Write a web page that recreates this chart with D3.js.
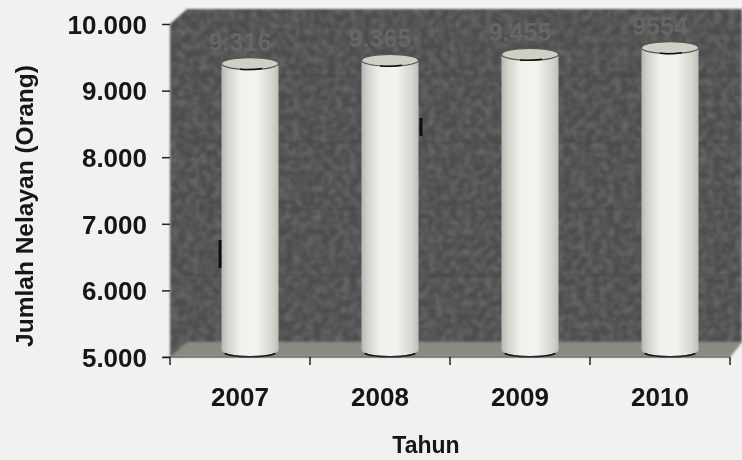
<!DOCTYPE html>
<html><head><meta charset="utf-8">
<script src="https://cdn.jsdelivr.net/npm/d3@7"></script>
<style>html,body{margin:0;padding:0;background:#f1f1ef}svg{display:block}text{font-family:"Liberation Sans",Arial,sans-serif;font-weight:bold;fill:#141414}</style>
</head><body><svg id="c" width="742" height="460"></svg>
<script>
const years = ["2007","2008","2009","2010"];
const fishers = [9316,9365,9455,9554];
const valueLabels = ["9.316","9.365","9.455","9554"];
const yTicks = [5000,6000,7000,8000,9000,10000];
const yTickLabels = ["5.000","6.000","7.000","8.000","9.000","10.000"];
const xTitle = "Tahun";
const yTitle = "Jumlah Nelayan (Orang)";

const svg = d3.select("#c");
const x = d3.scaleBand().domain(years).range([170,730]);
const y = d3.scaleLinear().domain([5000,10000]).range([357,24]);
const dx = 17, dy = -15;           // 3D depth of the wall
const barDx = 10, barDy = -6;      // bar sits mid-depth
const rw = 28.5, ry = 6;

const defs = svg.append("defs");
const grad = defs.append("linearGradient").attr("id","cyl");
[[0,"#b8b8b2"],[.1,"#d0d0ca"],[.32,"#f0f0ec"],[.62,"#f2f2ee"],[.88,"#d6d6d0"],[1,"#c0c0ba"]]
  .forEach(s=>grad.append("stop").attr("offset",s[0]).attr("stop-color",s[1]));
const filt = defs.append("filter").attr("id","scan").attr("x","-5%").attr("y","-5%").attr("width","110%").attr("height","110%");
filt.append("feTurbulence").attr("type","fractalNoise").attr("baseFrequency",.14).attr("numOctaves",2).attr("seed",4).attr("result","n");
filt.append("feColorMatrix").attr("in","n").attr("type","matrix").attr("values","0 0 0 0 .38  0 0 0 0 .38  0 0 0 0 .38  .45 0 0 0 -.16").attr("result","m");
filt.append("feComposite").attr("in","m").attr("in2","SourceAlpha").attr("operator","in").attr("result","c");
filt.append("feMerge").selectAll("feMergeNode").data(["SourceGraphic","c"]).join("feMergeNode").attr("in",d=>d);
defs.append("filter").attr("id","soft").append("feGaussianBlur").attr("stdDeviation",.55);
defs.append("filter").attr("id","soft2").append("feGaussianBlur").attr("stdDeviation",1);

const pLeft = x.range()[0], pRight = x.range()[1];
const pBottom = y(5000), pTop = y(10000);

// walls and floor
const wall = svg.append("g").attr("filter","url(#soft2)");
wall.append("path").attr("d",`M${pLeft},${pBottom}V${pTop}L${pLeft+dx},${pTop+dy}H742V${pBottom+dy}L${pRight},${pBottom}Z`)
  .attr("fill","#4e4e4d").attr("filter","url(#scan)");
wall.append("path").attr("d",`M${pLeft},${pBottom}L${pLeft+dx},${pBottom+dy}H742L${pRight},${pBottom}Z`).attr("fill","#8a8a82");
wall.selectAll(".grid").data(yTicks.slice(1,-1)).join("line")
  .attr("x1",pLeft+dx).attr("x2",742).attr("y1",d=>y(d)+dy).attr("y2",d=>y(d)+dy)
  .attr("stroke","#444443").attr("stroke-width",1);
svg.append("path").attr("d",`M${pLeft+dx},${pTop+dy}H742`).attr("stroke","#888886").attr("stroke-width",1).attr("filter","url(#soft)");

// data labels
svg.append("g").attr("filter","url(#soft)").selectAll("text").data(years).join("text")
  .attr("x",d=>x(d)+x.bandwidth()/2).attr("y",(d,i)=>y(fishers[i])+barDy-13)
  .attr("text-anchor","middle").attr("font-size",25).style("fill","#666665")
  .text((d,i)=>valueLabels[i]);

// cylinders
const barBase = pBottom - 7;
const bars = svg.append("g").attr("filter","url(#soft)").selectAll("g").data(years).join("g")
  .attr("transform",d=>`translate(${x(d)+x.bandwidth()/2+barDx},0)`);
bars.append("path").attr("d",(d,i)=>{
  const t=y(fishers[i])+barDy;
  return `M${-rw},${t}V${barBase}A${rw},${ry} 0 0 0 ${rw},${barBase}V${t}Z`;
}).attr("fill","url(#cyl)");
bars.append("path").attr("d",`M${-rw+3},${barBase+3.5}A${rw},${ry} 0 0 0 ${rw-3},${barBase+3.5}`)
  .attr("fill","none").attr("stroke","#111").attr("stroke-width",1.6);
bars.append("ellipse").attr("cx",0).attr("cy",(d,i)=>y(fishers[i])+barDy).attr("rx",rw).attr("ry",ry)
  .attr("fill","#cfcfc6").attr("stroke","#55554f").attr("stroke-width",1.2);
bars.append("path").attr("d",(d,i)=>{
  const t=y(fishers[i])+barDy;
  return `M-10,${t+5.6}Q0,${t+6.6} 12,${t+5}`;
}).attr("fill","none").attr("stroke","#111").attr("stroke-width",1.5);

// axes
const ax = svg.append("g").attr("filter","url(#soft)");
const xAxis = ax.append("g").attr("transform",`translate(0,${pBottom})`);
xAxis.append("line").attr("x1",pLeft-7).attr("x2",pRight).attr("stroke","#444").attr("stroke-width",1.2);
xAxis.selectAll(".t").data(years.concat("end")).join("line")
  .attr("x1",(d,i)=>pLeft+i*x.step()).attr("x2",(d,i)=>pLeft+i*x.step()).attr("y1",0).attr("y2",8)
  .attr("stroke","#222").attr("stroke-width",1.5);
const yAxis = ax.append("g").call(d3.axisLeft(y).tickValues(yTicks).tickFormat((d,i)=>yTickLabels[i]).tickSize(8).tickPadding(15))
  .attr("transform",`translate(${pLeft},0)`);
yAxis.select(".domain").remove();
yAxis.selectAll("line").attr("stroke","#222").attr("stroke-width",1.5);
yAxis.selectAll("text").attr("font-size",26).attr("dy",".36em");
ax.selectAll(".xl").data(years).join("text").attr("class","xl")
  .attr("x",d=>x(d)+x.bandwidth()/2).attr("y",406).attr("text-anchor","middle").attr("font-size",26).text(d=>d);
ax.append("text").attr("x",426).attr("y",453).attr("text-anchor","middle").attr("font-size",23).text(xTitle);
ax.append("text").attr("transform","translate(33,206) rotate(-90)").attr("text-anchor","middle").attr("font-size",24.5).text(yTitle);

// scanner specks on the original print
ax.selectAll(".speck").data([[220,240,268],[421,118,136]]).join("line")
  .attr("x1",d=>d[0]).attr("x2",d=>d[0]).attr("y1",d=>d[1]).attr("y2",d=>d[2])
  .attr("stroke","#111").attr("stroke-width",3);
</script></body></html>
